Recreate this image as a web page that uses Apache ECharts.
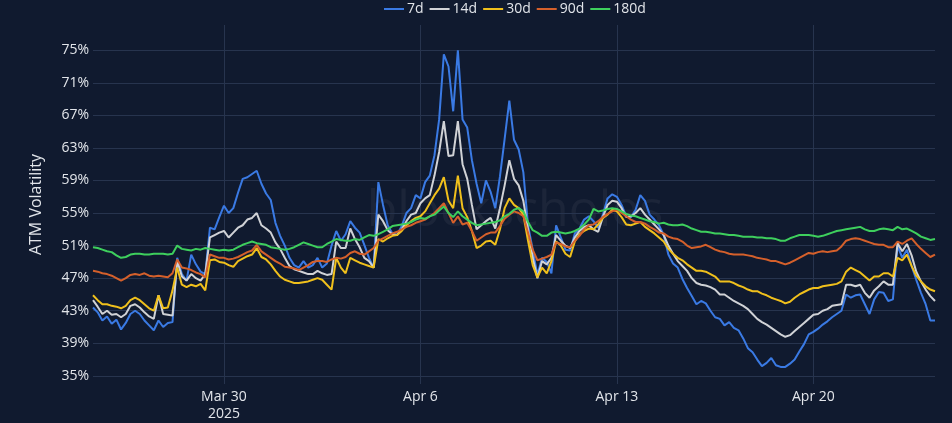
<!DOCTYPE html>
<html>
<head>
<meta charset="utf-8">
<script src="https://cdn.jsdelivr.net/npm/echarts@6/dist/echarts.min.js"></script>
<style>
html,body{margin:0;padding:0;background:#101a2f;}
#chart{width:952px;height:423px;}
</style>
</head>
<body>
<div id="chart"></div>
<script>
// 4-hourly samples starting 2025-03-25 08:00 UTC
const START = Date.UTC(2025, 2, 25, 8);
const STEP = 4 * 3600 * 1000;

const seriesNames = ['7d', '14d', '30d', '90d', '180d'];

const vol7d = [43.4,42.8,41.8,42.3,41.4,41.9,40.7,41.5,42.6,43.0,42.6,41.8,41.2,40.6,41.8,41.0,41.5,41.6,49.5,47.5,
46.7,49.9,48.7,47.8,47.5,53.2,53.0,54.5,55.9,55.0,55.6,57.5,59.2,59.4,59.8,60.2,58.6,57.4,56.6,53.8,
52.2,51.0,49.5,48.6,48.3,49.1,48.3,48.6,49.5,48.3,48.8,51.0,52.8,51.6,52.4,54.0,53.2,52.6,51.1,49.5,
48.3,58.8,56.0,53.5,52.5,52.3,53.4,55.0,55.6,57.2,56.8,58.8,59.6,62.1,66.5,74.5,73.0,67.5,75.0,66.5,
65.5,61.5,58.6,56.2,59.0,57.6,55.6,59.5,64.1,68.8,64.0,62.8,60.0,53.5,50.5,47.4,49.5,49.0,47.6,53.5,
52.0,50.5,50.4,52.5,53.1,54.2,54.6,54.0,53.2,54.8,56.8,57.3,57.0,56.0,54.6,54.5,55.4,57.2,56.5,54.8,
54.2,53.5,52.3,49.9,48.8,48.3,46.9,45.8,44.8,43.8,44.2,43.9,43.0,42.2,42.0,41.2,41.6,40.9,40.6,39.6,
38.4,37.9,37.0,36.2,36.6,37.2,36.3,36.1,36.1,36.5,37.0,38.0,38.9,40.1,40.4,40.8,41.3,41.7,42.2,42.6,
43.0,45.0,44.6,44.9,45.0,43.8,42.6,44.4,45.3,45.2,44.2,44.4,51.0,49.5,50.5,48.5,46.8,45.2,43.8,41.8,41.8];

const vol14d = [44.3,43.5,42.6,43.0,42.5,42.6,42.2,42.6,43.6,43.8,43.4,42.8,42.3,42.0,44.9,42.6,42.5,42.4,49.1,47.2,
46.7,47.5,47.0,46.7,47.5,52.0,52.3,52.6,52.8,52.0,52.6,53.2,53.5,54.2,54.4,55.0,53.5,53.1,52.6,51.4,
50.6,49.5,48.5,48.1,47.9,47.7,47.5,47.5,47.9,47.6,47.4,47.5,51.5,50.7,50.7,53.1,51.8,50.8,49.5,49.1,
48.3,54.8,54.0,52.9,52.4,52.3,53.0,54.0,54.8,55.0,56.2,56.8,57.2,59.6,62.5,66.3,62.0,62.1,66.3,61.0,
59.2,56.0,53.0,53.5,54.0,54.4,53.1,55.6,58.4,61.5,59.2,58.4,56.5,53.0,49.5,47.0,49.1,48.7,49.5,52.3,
51.6,51.0,50.7,52.0,52.8,53.3,53.5,53.0,52.7,54.5,56.0,56.5,56.4,55.6,54.5,54.6,55.0,55.6,54.8,54.2,
53.6,53.0,52.3,51.0,50.0,49.1,48.5,47.9,47.0,46.4,46.2,46.1,45.9,45.6,45.0,45.0,44.6,44.2,43.9,43.6,
43.2,42.6,42.0,41.6,41.3,40.9,40.5,40.1,39.8,40.0,40.5,41.0,41.5,42.0,42.5,42.6,43.0,43.2,43.6,43.7,
43.8,46.2,46.2,46.0,46.2,45.2,44.6,45.5,46.0,46.6,46.2,46.2,51.3,50.3,51.2,49.8,47.8,46.6,45.6,44.8,44.2];

const vol30d = [44.9,44.3,43.8,43.8,43.6,43.5,43.3,43.6,44.3,44.6,44.3,43.8,43.3,43.0,44.9,43.3,43.4,45.5,48.3,46.2,
45.9,46.2,46.0,46.3,45.5,49.2,49.3,49.0,48.9,48.6,48.4,49.1,49.4,49.7,49.9,50.7,49.6,49.3,48.7,47.9,
47.2,46.8,46.6,46.4,46.4,46.5,46.6,46.8,47.0,46.8,46.2,45.6,49.5,48.3,47.6,49.5,49.2,48.9,48.7,48.5,
48.3,51.8,51.5,51.9,52.2,52.3,52.8,53.5,54.0,54.4,54.6,55.2,56.2,57.2,58.0,59.4,56.5,55.6,59.6,55.6,
54.5,52.8,50.7,51.0,51.5,51.6,51.1,53.0,55.6,56.8,56.0,55.6,54.8,51.6,48.6,47.1,48.3,47.6,49.1,51.5,
51.0,50.0,49.6,51.5,52.4,52.8,53.1,53.0,53.6,54.4,54.8,55.4,55.2,54.5,53.6,53.5,53.7,53.9,53.3,52.9,
52.5,52.0,51.5,50.6,50.0,49.5,49.2,48.7,48.3,47.9,47.9,47.8,47.5,47.2,46.6,46.6,46.6,46.4,46.1,45.9,
45.6,45.4,45.4,45.1,44.9,44.6,44.4,44.2,43.9,44.1,44.6,45.0,45.3,45.6,45.8,45.8,46.0,46.1,46.2,46.3,
46.6,47.8,48.3,48.0,47.7,47.2,46.7,47.2,47.2,47.6,47.6,47.2,49.5,49.2,49.9,48.5,47.3,46.6,46.0,45.6,45.4];

const vol90d = [47.9,47.8,47.6,47.5,47.3,47.0,46.7,47.0,47.4,47.5,47.4,47.6,47.3,47.2,47.3,47.2,47.1,47.6,49.3,48.3,
48.2,48.0,47.7,47.5,47.1,49.9,49.7,49.5,49.5,49.3,49.4,49.6,49.9,50.2,50.4,51.1,50.3,49.9,49.5,49.1,
48.8,48.4,48.3,48.2,48.0,48.3,48.6,49.0,49.1,49.1,49.0,49.3,49.5,49.4,49.6,50.1,50.3,50.0,49.9,50.3,
50.7,51.6,51.9,52.2,52.5,52.7,53.0,53.3,53.5,53.8,54.0,54.2,54.6,55.0,55.6,56.2,55.0,53.8,54.6,53.6,
53.8,52.8,51.6,52.0,52.4,52.6,52.6,53.4,54.3,54.8,55.2,55.0,54.6,52.6,50.5,49.2,49.4,49.6,49.9,51.4,
51.2,50.9,50.8,51.6,52.2,53.0,53.5,53.6,54.0,54.5,54.9,55.2,55.4,55.0,54.6,54.2,53.9,53.9,53.7,53.3,
53.0,52.6,52.5,52.1,51.9,51.8,51.5,51.0,50.7,50.8,50.9,51.1,50.8,50.5,50.3,50.2,50.0,49.9,49.9,49.9,
49.8,49.7,49.5,49.4,49.3,49.1,49.1,48.9,48.7,48.9,49.2,49.5,49.8,50.1,50.0,50.2,50.3,50.2,50.3,50.4,
50.9,51.6,51.8,51.9,51.8,51.6,51.4,51.2,51.1,51.1,50.8,50.8,51.5,51.2,51.6,51.9,51.2,50.6,50.1,49.6,49.9];

const vol180d = [50.8,50.7,50.5,50.3,50.2,49.8,49.5,49.6,49.9,50.0,50.0,49.9,49.9,50.0,50.0,50.0,49.9,50.0,51.0,50.6,
50.5,50.4,50.6,50.5,50.7,50.6,50.5,50.4,50.5,50.4,50.5,50.8,51.1,51.3,51.5,51.3,51.2,51.1,50.8,50.7,
50.6,50.5,50.6,50.8,51.1,51.4,51.2,51.0,50.8,50.8,51.2,51.5,51.8,51.7,51.6,51.6,51.8,51.7,52.0,52.3,
52.2,52.4,52.7,53.0,53.4,53.5,53.6,53.7,53.9,54.2,54.4,54.3,54.6,54.8,55.3,55.8,55.0,54.5,55.2,54.6,
54.2,53.8,53.5,53.6,53.7,53.8,53.9,54.1,54.6,54.9,55.4,55.6,55.2,53.9,52.9,52.6,52.2,52.2,52.6,52.7,
52.6,52.5,52.6,52.8,53.1,53.6,54.2,55.5,55.2,55.3,55.5,55.6,55.5,55.2,54.9,54.7,54.6,54.4,54.2,54.0,
53.9,53.7,53.8,53.6,53.5,53.5,53.6,53.4,53.1,52.9,52.7,52.7,52.6,52.5,52.5,52.4,52.3,52.3,52.2,52.1,
52.1,52.1,52.0,52.0,51.9,51.9,51.8,51.6,51.6,51.9,52.1,52.3,52.3,52.3,52.2,52.1,52.2,52.4,52.6,52.8,
52.9,53.0,53.1,53.2,53.3,53.0,52.8,52.8,53.0,53.1,53.0,52.9,53.3,53.0,53.1,52.8,52.5,52.1,51.9,51.7,51.8];

const yTicks = [35, 39, 43, 47, 51, 55, 59, 63, 67, 71, 75];
const xTickDates = [Date.UTC(2025, 2, 30), Date.UTC(2025, 3, 6), Date.UTC(2025, 3, 13), Date.UTC(2025, 3, 20)];
const xTickLabels = ['Mar 30\n2025', 'Apr 6', 'Apr 13', 'Apr 20'];

const colors = ['#3a7ae4', '#d0d2d6', '#f0c01c', '#d5602b', '#3ecf5d'];
const allVals = [vol7d, vol14d, vol30d, vol90d, vol180d];

const times = vol7d.map((_, i) => START + i * STEP);

const chart = echarts.init(document.getElementById('chart'), null, { renderer: 'canvas' });
const gridColor = '#27344e';
const textColor = '#e2e5ea';

chart.setOption({
  backgroundColor: '#101a2f',
  animation: false,
  color: colors,
  textStyle: { fontFamily: 'Open Sans' },
  legend: {
    data: seriesNames,
    top: -3,
    left: 379,
    itemWidth: 20,
    itemHeight: 2,
    itemGap: 6,
    icon: 'rect',
    textStyle: { color: textColor, fontSize: 14, fontFamily: 'Open Sans', padding: [0, 0, 0, -2] }
  },
  graphic: [{
    type: 'text',
    silent: true,
    z: 0,
    style: {
      x: 515, y: 212,
      text: 'blockscholes',
      align: 'center',
      verticalAlign: 'middle',
      fontSize: 50,
      fontFamily: 'Open Sans',
      fill: 'rgba(255,255,255,0.05)'
    }
  }],
  grid: { left: 93, right: 17, top: 25, bottom: 35, containLabel: false },
  xAxis: {
    type: 'value',
    min: times[0],
    max: times[times.length - 1],
    axisLine: { show: false },
    axisTick: { show: false, customValues: xTickDates },
    splitLine: { show: true, lineStyle: { color: gridColor, width: 1 } },
    axisLabel: {
      customValues: xTickDates,
      color: textColor,
      fontSize: 14,
      lineHeight: 17,
      margin: 5,
      formatter: function (v) {
        const k = xTickDates.indexOf(v);
        return k >= 0 ? xTickLabels[k] : '';
      }
    }
  },
  yAxis: {
    type: 'value',
    min: 34.0,
    max: 78.1,
    name: 'ATM Volatility',
    nameLocation: 'middle',
    nameGap: 49,
    nameTextStyle: { color: textColor, fontSize: 16, fontFamily: 'Open Sans' },
    axisLine: { show: false },
    axisTick: { show: false, customValues: yTicks },
    splitLine: { show: true, lineStyle: { color: gridColor, width: 1 } },
    axisLabel: {
      customValues: yTicks,
      color: textColor,
      fontSize: 14,
      margin: 4,
      formatter: v => Math.round(v) + '%'
    }
  },
  series: seriesNames.map((n, k) => ({
    name: n,
    type: 'line',
    showSymbol: false,
    symbol: 'none',
    lineStyle: { width: 2, color: colors[k] },
    itemStyle: { color: colors[k] },
    data: allVals[k].map((v, i) => [times[i], v])
  }))
});
</script>
</body>
</html>
